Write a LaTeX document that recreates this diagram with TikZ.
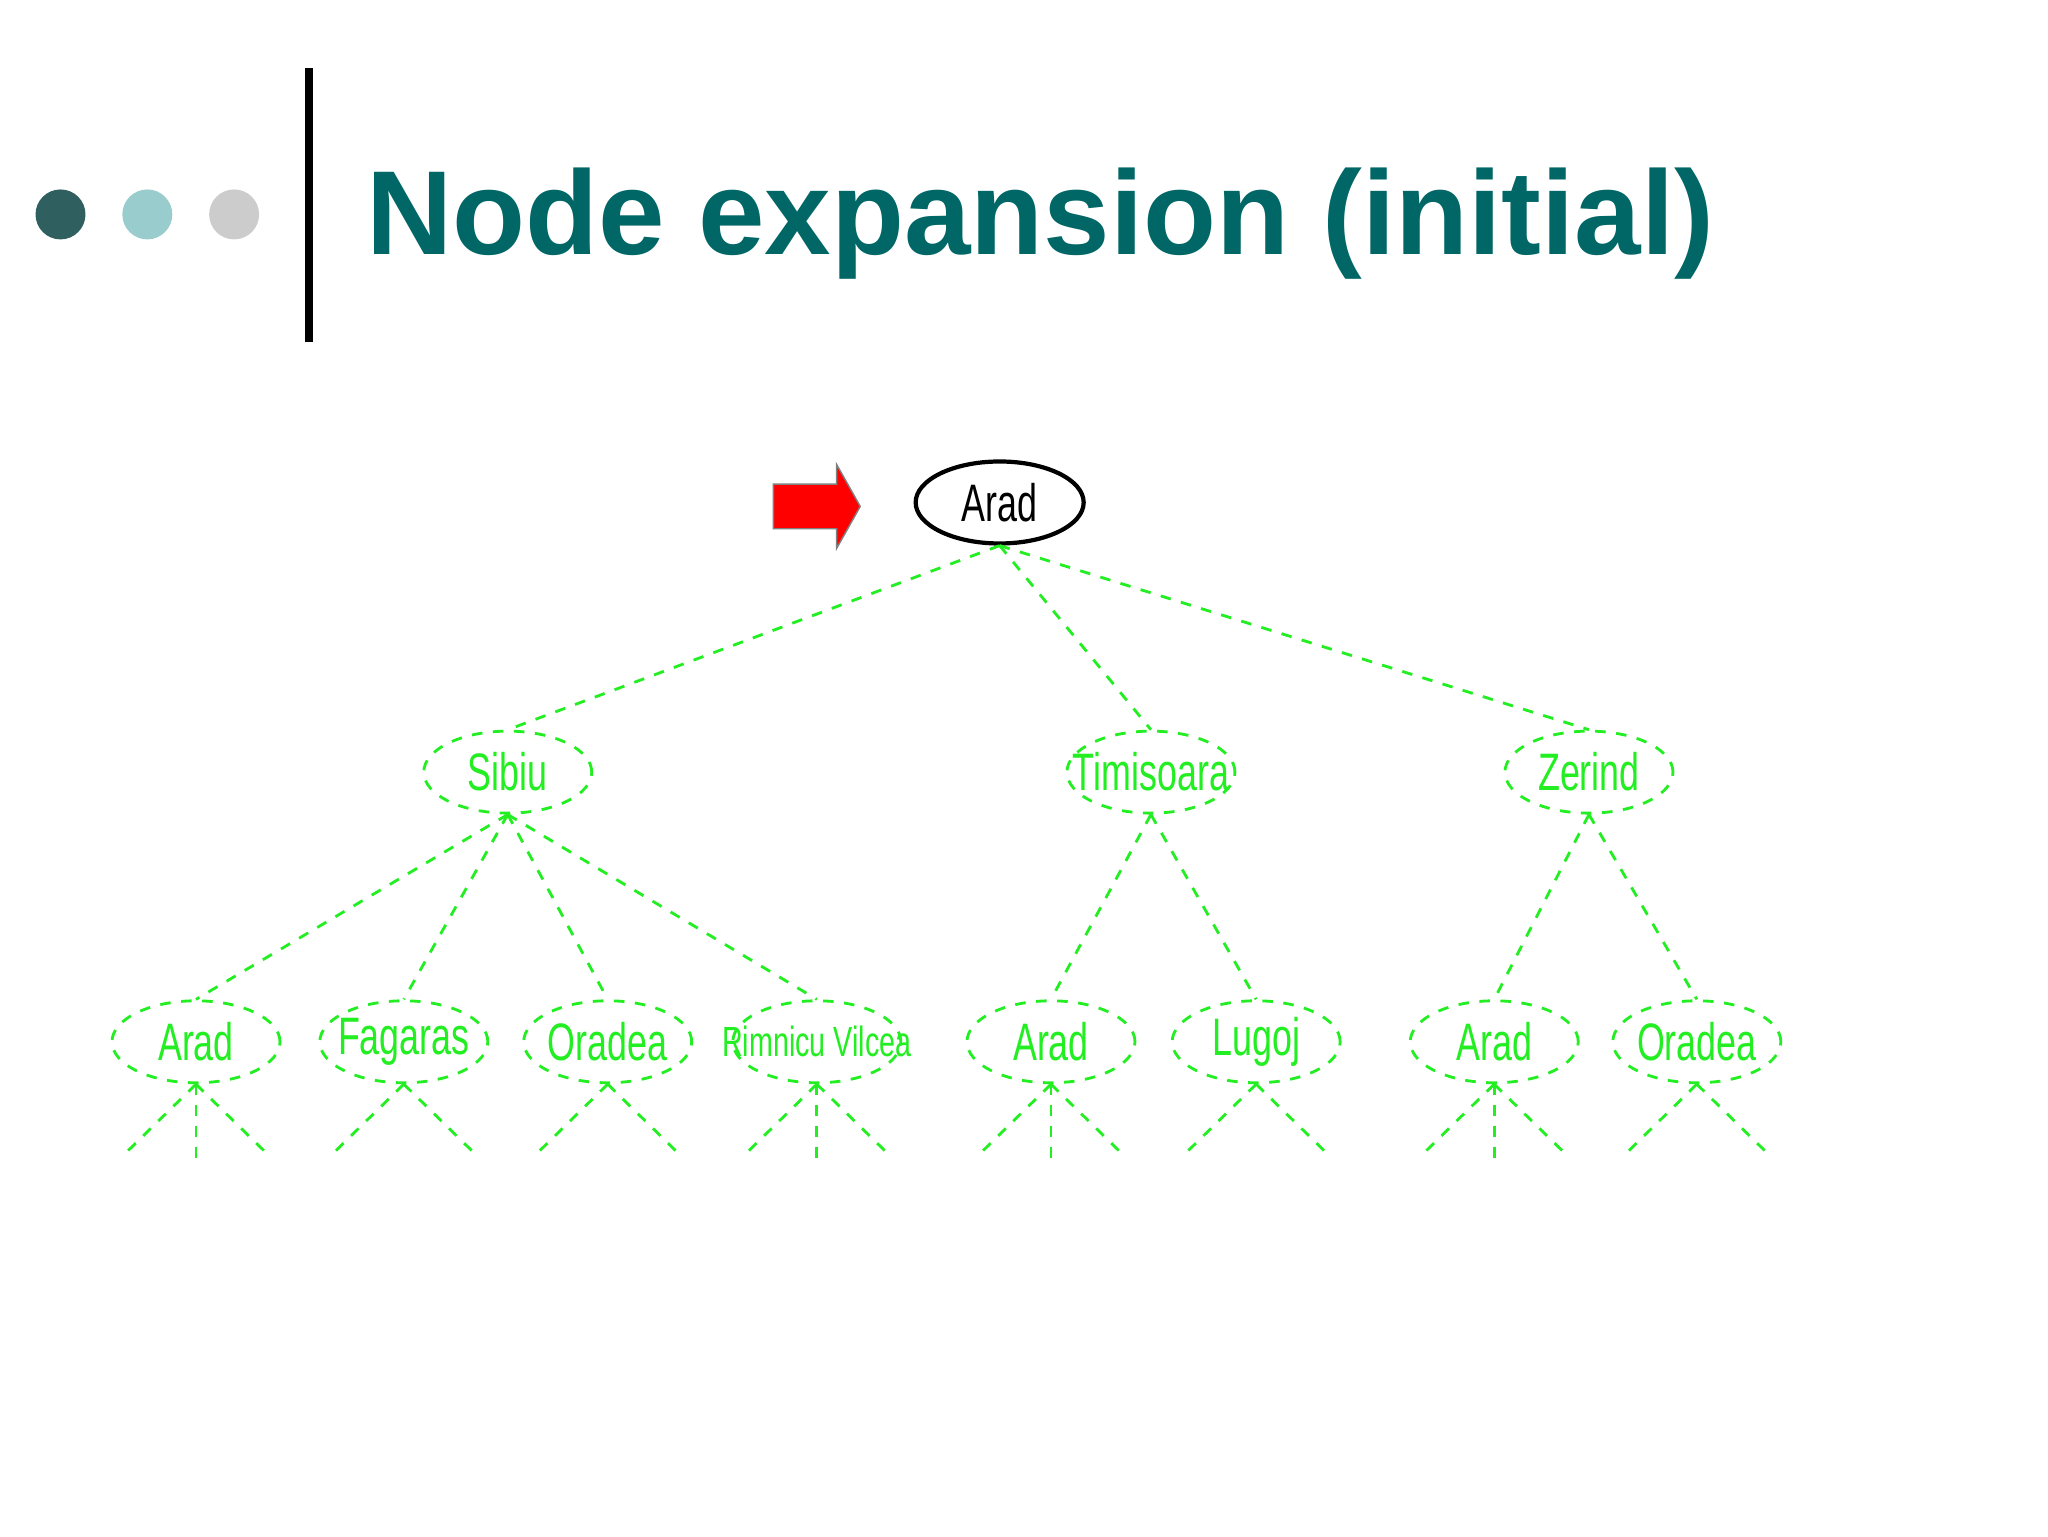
\documentclass[tikz,border=0pt]{standalone}
\usepackage{fontspec}
\setmainfont{Liberation Sans}
\newfontfamily\narrowfont[FakeStretch=0.68]{Liberation Sans}
\usetikzlibrary{shapes.geometric}
\definecolor{teal1}{HTML}{006666}
\definecolor{gr}{HTML}{22EE22}
\definecolor{dot1}{HTML}{2F5F5F}
\definecolor{dot2}{HTML}{99CCCC}
\definecolor{dot3}{HTML}{CCCCCC}
\newcommand{\zw}[1]{\makebox[0pt]{#1}}
\begin{document}
\begin{tikzpicture}[x=0.013154cm,y=-0.013154cm,
  el/.style={ellipse,draw=gr,dashed,thick,minimum width=1.68cm,minimum height=0.82cm,inner sep=0pt,text=gr,font=\narrowfont\fontsize{15}{15}\selectfont},
  ed/.style={draw=gr,dashed,thick}]
\useasboundingbox (0,0) rectangle (1557,1168);
\fill[dot1] (46,163) circle (19);
\fill[dot2] (112,163) circle (19);
\fill[dot3] (178,163) circle (19);
\draw[line width=0.08cm] (235,52) -- (235,260);
\node[anchor=west,text=teal1,font=\bfseries\fontsize{34}{34}\selectfont,inner sep=0pt] (title) at (278,170) {Node expansion (initial)};
\node[ellipse,draw=black,very thick,minimum width=1.68cm,minimum height=0.82cm,inner sep=0pt,font=\narrowfont\fontsize{15}{15}\selectfont] (root) at (760,382) {\zw{Arad}};
\filldraw[fill=red,draw=gray] (588,368) -- (636,368) -- (636,353) -- (654,385) -- (636,417) -- (636,402) -- (588,402) -- cycle;
\node[el] (s) at (386,587) {\zw{Sibiu}};
\node[el] (t) at (875,587) {\zw{Timisoara}};
\node[el] (z) at (1208,587) {\zw{Zerind}};
\node[el] (a1) at (149,792) {\zw{Arad}};
\node[el] (f) at (307,792) {\zw{Fagaras}};
\node[el] (o1) at (462,792) {\zw{Oradea}};
\node[el,font=\narrowfont\fontsize{12}{12}\selectfont] (r) at (621,792) {\zw{Rimnicu Vilcea}};
\node[el] (a2) at (799,792) {\zw{Arad}};
\node[el] (l) at (955,792) {\zw{Lugoj}};
\node[el] (a3) at (1136,792) {\zw{Arad}};
\node[el] (o2) at (1290,792) {\zw{Oradea}};
\draw[ed] (root.south) -- (s.north);
\draw[ed] (root.south) -- (t.north);
\draw[ed] (root.south) -- (z.north);
\foreach \c in {a1,f,o1,r} \draw[ed] (s.south) -- (\c.north);
\foreach \c in {a2,l} \draw[ed] (t.south) -- (\c.north);
\foreach \c in {a3,o2} \draw[ed] (z.south) -- (\c.north);
\foreach \n/\x/\m in {a1/149/1,f/307/0,o1/462/0,r/621/1,a2/799/1,l/955/0,a3/1136/1,o2/1290/0}{
  \coordinate (\n L) at (\x-57,880);
  \coordinate (\n R) at (\x+57,880);
  \coordinate (\n C) at (\x,880);
  \draw[ed] (\n.south) -- (\n L);
  \draw[ed] (\n.south) -- (\n R);
  \ifnum\m=1 \draw[ed] (\n.south) -- (\n C);\fi
}
\end{tikzpicture}
\end{document}
